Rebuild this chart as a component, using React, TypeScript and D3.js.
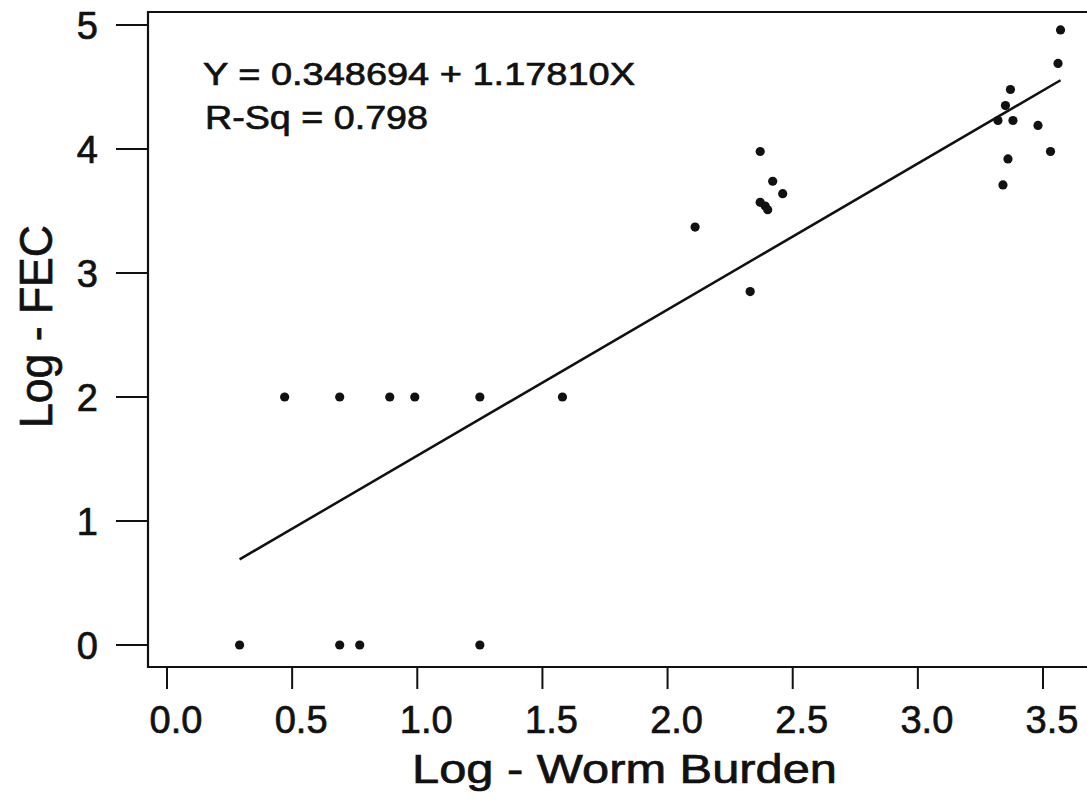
import React from 'react';
import * as d3 from 'd3';

const wormBurden = [
  0.29, 0.69, 0.77, 1.25,
  0.47, 0.69, 0.89, 0.99, 1.25, 1.58,
  2.11, 2.33, 2.37, 2.37, 2.39, 2.40, 2.42, 2.46,
  3.32, 3.34, 3.36, 3.35, 3.37, 3.38, 3.48, 3.53, 3.56, 3.57,
];
const logFec = [
  0, 0, 0, 0,
  2, 2, 2, 2, 2, 2,
  3.37, 2.85, 3.98, 3.57, 3.54, 3.51, 3.74, 3.64,
  4.23, 3.71, 3.92, 4.35, 4.48, 4.23, 4.19, 3.98, 4.69, 4.96,
];

const intercept = 0.348694;
const slope = 1.1781;

const xTicks = [0, 0.5, 1, 1.5, 2, 2.5, 3, 3.5];
const yTicks = [0, 1, 2, 3, 4, 5];

const W = 1087, H = 807;
const font = "'Liberation Sans', Arial, Helvetica, sans-serif";
const ink = '#111';

const x = d3.scaleLinear().domain([0, 3.5]).range([167, 1043]);
const y = d3.scaleLinear().domain([0, 5]).range([645, 25]);

const frame = { left: 148, top: 12, bottom: 667, right: 1100 };

// scanned text looks a bit heavier than plain Arial
const heavy = { fill: ink, stroke: ink, strokeWidth: 0.7 };

export default function App() {
  const xs = d3.extent(wormBurden) as [number, number];
  const fit = d3.line<number>()
    .x(d => x(d))
    .y(d => y(intercept + slope * d));

  return (
    <svg width={W} height={H}
      style={{ position: 'absolute', left: 0, top: 0, background: '#fff', overflow: 'hidden' }}
      fontFamily={font}>
      <rect x={0} y={0} width={W} height={H} fill="#fff" />

      {/* frame */}
      <path d={`M${frame.right},${frame.top}H${frame.left}V${frame.bottom}H${frame.right}`}
        fill="none" stroke={ink} strokeWidth={2.2} />

      {/* x axis */}
      {xTicks.map(t => (
        <g key={'x' + t}>
          <line x1={x(t)} x2={x(t)} y1={frame.bottom} y2={frame.bottom + 22} stroke={ink} strokeWidth={2} />
          <text x={x(t) + 9} y={733} fontSize={38} textAnchor="middle" {...heavy}>{t.toFixed(1)}</text>
        </g>
      ))}

      {/* y axis */}
      {yTicks.map(t => (
        <g key={'y' + t}>
          <line x1={frame.left - 32} x2={frame.left} y1={y(t)} y2={y(t)} stroke={ink} strokeWidth={2} />
          <text x={98} y={y(t) + 14} fontSize={38} textAnchor="end" {...heavy}>{t}</text>
        </g>
      ))}

      {/* fitted line */}
      <path d={fit(xs) ?? ''} fill="none" stroke={ink} strokeWidth={2.5} />

      {/* points */}
      {wormBurden.map((d, i) => (
        <circle key={i} cx={x(d)} cy={y(logFec[i])} r={4.6} fill={ink} />
      ))}

      {/* annotations */}
      <text x={203} y={85} fontSize={32} textLength={432} lengthAdjust="spacingAndGlyphs" {...heavy}>
        Y = 0.348694 + 1.17810X
      </text>
      <text x={205} y={129} fontSize={33} textLength={223} lengthAdjust="spacingAndGlyphs" {...heavy}>
        R-Sq = 0.798
      </text>

      {/* axis titles */}
      <text x={412} y={783} fontSize={40} textLength={425} lengthAdjust="spacingAndGlyphs" {...heavy}>
        Log - Worm Burden
      </text>
      <text transform="translate(52,326.5) rotate(-90)" fontSize={47} textAnchor="middle"
        textLength={203} lengthAdjust="spacingAndGlyphs" {...heavy}>
        Log - FEC
      </text>
    </svg>
  );
}
